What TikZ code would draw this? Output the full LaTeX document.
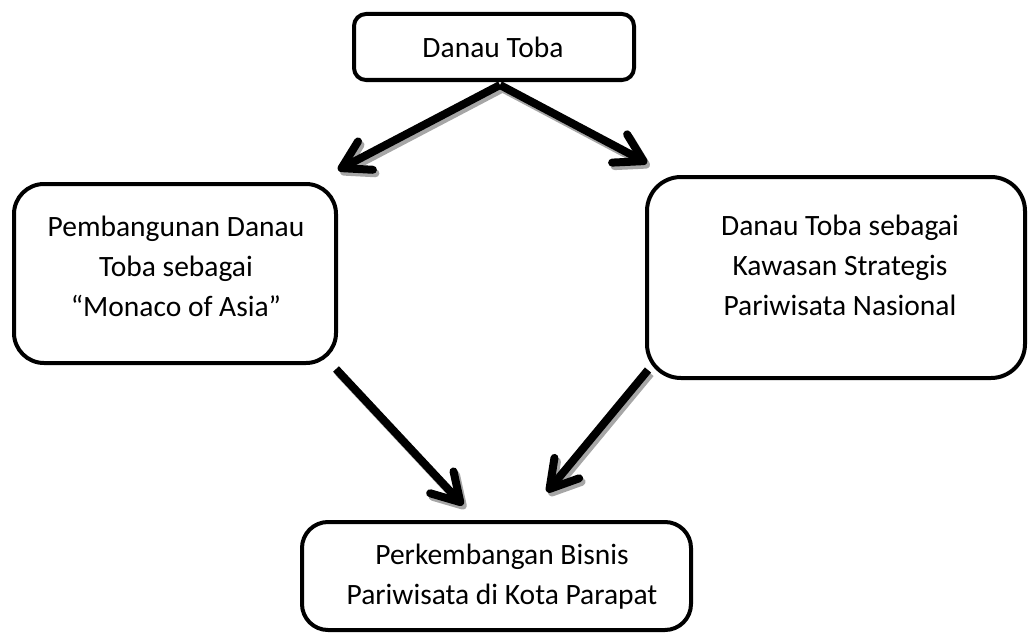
\documentclass[tikz,border=0pt]{standalone}
\usepackage{fontspec}
\setmainfont{Carlito}
\usetikzlibrary{arrows.meta,calc}
\begin{document}
\begin{tikzpicture}[x=1pt,y=-1pt,
  box/.style={draw=black,line width=4pt,fill=white,rectangle},
  txt/.style={align=center,font=\fontsize{29.5}{40}\selectfont,inner sep=0pt},
  flow/.style={line width=8pt,-{Straight Barb[length=27pt,width=32pt,round]}},
  flowshadow/.style={flow,draw=black!35,transform canvas={shift={(2.5pt,-3.5pt)}}}]
\useasboundingbox (0,0) rectangle (1028,634);
% boxes
\node[box,rounded corners=12pt,minimum width=280pt,minimum height=66pt] (top) at (494,47) {};
\node[box,rounded corners=30pt,minimum width=322pt,minimum height=179pt] (left) at (175,273.5) {};
\node[box,rounded corners=34pt,minimum width=378pt,minimum height=201pt] (right) at (836,277.5) {};
\node[box,rounded corners=26pt,minimum width=389pt,minimum height=108pt] (bot) at (496.5,576) {};
% texts
\node[txt] (ttop) at (493,47) {Danau Toba};
\node[txt] (tleft) at (176,266) {Pembangunan Danau\\Toba sebagai\\“Monaco of Asia”};
\node[txt] (tright) at (840,265) {Danau Toba sebagai\\Kawasan Strategis\\Pariwisata Nasional};
\node[txt] (tbot) at (502,577) {Perkembangan Bisnis\\Pariwisata di Kota Parapat};
% arrow endpoints
\coordinate (s1) at ($(top.south)+(6,3)$);
\coordinate (e1) at (338,170);
\coordinate (e2) at (647,163);
\coordinate (s3) at ($(left.south east)+(-2,4)$);
\coordinate (e3) at (463,505);
\coordinate (s4) at ($(right.south west)+(3,-10)$);
\coordinate (e4) at (547,492);
% shadows
\draw[flowshadow] (s1) -- (e1);
\draw[flowshadow] (s1) -- (e2);
\draw[flowshadow] (s3) -- (e3);
\draw[flowshadow] (s4) -- (e4);
% arrows
\draw[flow] (s1) -- (e1);
\draw[flow] (s1) -- (e2);
\draw[flow] (s3) -- (e3);
\draw[flow] (s4) -- (e4);
\end{tikzpicture}
\end{document}
